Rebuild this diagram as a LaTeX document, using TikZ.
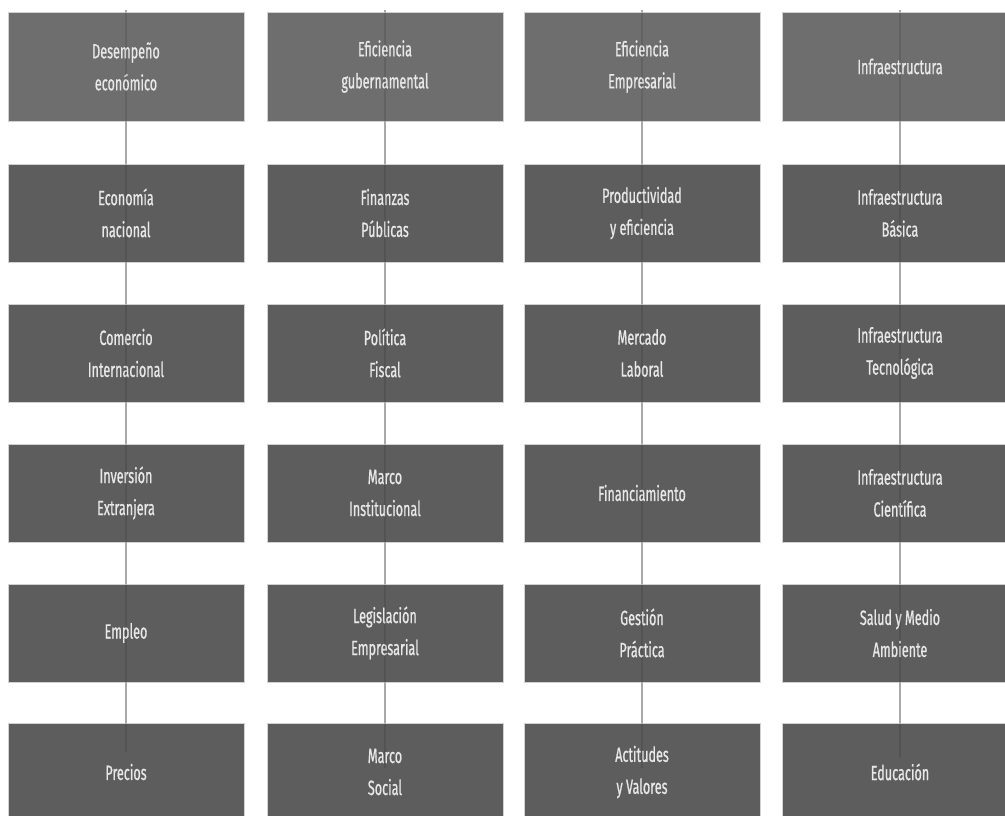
\documentclass[tikz,border=0pt]{standalone}
\usepackage{fontspec}
\setmainfont[FakeStretch=0.61,FakeBold=0.7]{Fira Sans}
\usetikzlibrary{calc}

\definecolor{headgray}{HTML}{6E6E6E}
\definecolor{boxgray}{HTML}{5D5D5D}
\definecolor{linkgray}{HTML}{BDBDBD}
\definecolor{textgray}{HTML}{E8E8E8}

\tikzset{
  factor/.style={rectangle, fill=boxgray, draw=black!18, line width=0.4pt,
    minimum width=177pt, minimum height=73.5pt, inner sep=0pt,
    text=textgray, align=center, font=\fontsize{15.5}{24}\selectfont},
  head/.style={factor, fill=headgray, minimum height=81.75pt},
  link/.style={draw=linkgray, line width=1.5pt},
  spine/.style={draw=black, opacity=0.1, line width=1.5pt}
}

\begin{document}
\begin{tikzpicture}[x=0.75pt,y=-0.75pt]
  % Constants
  \pgfmathsetmacro\ca{126}
  \pgfmathsetmacro\cb{385}
  \pgfmathsetmacro\cc{642}
  \pgfmathsetmacro\cd{900}
  % Boundary
  \path[use as bounding box] (0,0) rectangle (1005,815);
  % Desempeno economico
  \node[head]   (dese1) at (\ca,66.5) {Desempeño\\económico};
  \node[factor] (dese2) at (\ca,213) {Economía\\nacional};
  \node[factor] (dese3) at (\ca,353) {Comercio\\Internacional};
  \node[factor] (dese4) at (\ca,493) {Inversión\\Extranjera};
  \node[factor] (dese5) at (\ca,633) {Empleo};
  \node[factor] (dese6) at (\ca,772) {Precios};
  % Eficiencia gubernamental
  \node[head]   (gobi1) at (\cb,66.5) {Eficiencia\\gubernamental};
  \node[factor] (gobi2) at (\cb,213) {Finanzas\\Públicas};
  \node[factor] (gobi3) at (\cb,353) {Política\\Fiscal};
  \node[factor] (gobi4) at (\cb,493) {Marco\\Institucional};
  \node[factor] (gobi5) at (\cb,633) {Legislación\\Empresarial};
  \node[factor] (gobi6) at (\cb,772) {Marco\\Social};
  % Eficiencia empresarial
  \node[head]   (empr1) at (\cc,66.5) {Eficiencia\\Empresarial};
  \node[factor] (empr2) at (\cc,213) {Productividad\\y eficiencia};
  \node[factor] (empr3) at (\cc,353) {Mercado\\Laboral};
  \node[factor] (empr4) at (\cc,493) {Financiamiento};
  \node[factor] (empr5) at (\cc,633) {Gestión\\Práctica};
  \node[factor] (empr6) at (\cc,772) {Actitudes\\y Valores};
  % Infraestructura
  \node[head]   (infr1) at (\cd,66.5) {Infraestructura};
  \node[factor] (infr2) at (\cd,213) {Infraestructura\\Básica};
  \node[factor] (infr3) at (\cd,353) {Infraestructura\\Tecnológica};
  \node[factor] (infr4) at (\cd,493) {Infraestructura\\Científica};
  \node[factor] (infr5) at (\cd,633) {Salud y Medio\\Ambiente};
  \node[factor] (infr6) at (\cd,772) {Educación};
  % Spine ends
  \coordinate (deseTop) at (\ca,10);
  \coordinate (gobiTop) at (\cb,10);
  \coordinate (emprTop) at (\cc,10);
  \coordinate (infrTop) at (\cd,10);
  \coordinate (deseEnd) at (\ca,752);
  \coordinate (gobiEnd) at (\cb,768);
  \coordinate (emprEnd) at (\cc,768);
  \coordinate (infrEnd) at (\cd,758);
  % Links between boxes
  \foreach \k in {dese,gobi,empr,infr} {
    \draw[link] (\k Top) -- (\k1.north);
    \foreach \r/\s in {1/2,2/3,3/4,4/5,5/6}
      \draw[link] (\k\r.south) -- (\k\s.north);
    \draw[spine] (\k Top) -- (\k End);
  }
\end{tikzpicture}
\end{document}
